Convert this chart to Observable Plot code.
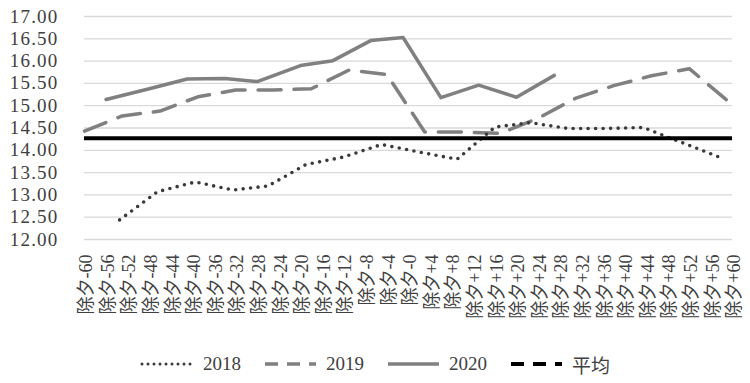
<!DOCTYPE html>
<html><head><meta charset="utf-8">
<script src="https://cdn.jsdelivr.net/npm/d3@7"></script>
<script src="https://cdn.jsdelivr.net/npm/@observablehq/plot@0.6"></script>
<style>
body{margin:0;background:#fff;}
#legend{display:flex;justify-content:center;align-items:center;height:38px;font-family:"Liberation Serif","Noto Sans CJK SC",serif;font-size:19px;color:#404040;padding-left:0px;}
.item{display:flex;align-items:center;margin:0 11px;}
.item svg{margin-right:8px;}
g[aria-label="y-axis tick label"] text{letter-spacing:1.2px;}
</style></head><body>
<div id="chart"></div>
<div id="legend"></div>
<script>
// ---- data ----
const xTickDays = [-60,-56,-52,-48,-44,-40,-36,-32,-28,-24,-20,-16,-12,-8,-4,0,4,8,12,16,20,24,28,32,36,40,44,48,52,56,60];
const xTickLabels = ["除夕-60","除夕-56","除夕-52","除夕-48","除夕-44","除夕-40","除夕-36","除夕-32","除夕-28","除夕-24","除夕-20","除夕-16","除夕-12","除夕-8","除夕-4","除夕-0","除夕+4","除夕+8","除夕+12","除夕+16","除夕+20","除夕+24","除夕+28","除夕+32","除夕+36","除夕+40","除夕+44","除夕+48","除夕+52","除夕+56","除夕+60"];
const yTicks = [12,12.5,13,13.5,14,14.5,15,15.5,16,16.5,17];
const yTickLabels = ["12.00","12.50","13.00","13.50","14.00","14.50","15.00","15.50","16.00","16.50","17.00"];

const days2018 = [-53.5,-46.5,-39.5,-32.5,-26,-19,-12,-5,2,9,16,22.5,29.5,36.5,43.5,50.5,57.5];
const vals2018 = [12.44,13.07,13.29,13.11,13.20,13.68,13.85,14.13,13.96,13.80,14.52,14.62,14.49,14.49,14.51,14.18,13.85];
const days2019 = [-60,-53,-46,-39,-32,-25,-18,-11,-4,3,10,17,24,31,38,45,52,59];
const vals2019 = [14.43,14.77,14.88,15.20,15.35,15.35,15.38,15.80,15.70,14.41,14.41,14.38,14.72,15.17,15.45,15.67,15.83,15.12];
const days2020 = [-56,-48,-41,-34,-28,-20,-14,-7,-1,6,13,20,27];
const vals2020 = [15.14,15.38,15.60,15.61,15.54,15.90,16.01,16.46,16.53,15.18,15.46,15.19,15.68];
const average = 14.27;

const seriesNames = ["2018","2019","2020","平均"];

// ---- build ----
const toRows = (days, vals) => days.map((d,i)=>({day:d, value:vals[i]}));
const rows2018 = toRows(days2018, vals2018);
const rows2019 = toRows(days2019, vals2019);
const rows2020 = toRows(days2020, vals2020);

const FONT = "'Liberation Serif','Noto Sans CJK SC',serif";
const chart = Plot.plot({
  width: 750, height: 345,
  marginLeft: 84, marginRight: 18, marginTop: 16, marginBottom: 106,
  style: {fontFamily: FONT, fontSize: "19px", color: "#404040", background: "#fff"},
  x: {domain: [-60, 60], label: null},
  y: {domain: [12, 17], label: null},
  marks: [
    Plot.ruleY(yTicks, {stroke: "#d9d9d9", strokeWidth: 1.3}),
    Plot.axisY({ticks: yTicks, tickFormat: d => yTickLabels[yTicks.indexOf(d)], tickSize: 0, tickPadding: 26, fontSize: 19, label: null}),
    Plot.axisX({ticks: xTickDays, tickFormat: d => xTickLabels[xTickDays.indexOf(d)], tickRotate: -90, tickSize: 0, tickPadding: 15, fontSize: 18, label: null, dx: 2}),
    Plot.line(rows2019, {x: "day", y: "value", stroke: "#808080", strokeWidth: 3.5, strokeDasharray: "23,13"}),
    Plot.line(rows2020, {x: "day", y: "value", stroke: "#808080", strokeWidth: 3.5}),
    Plot.line(rows2018, {x: "day", y: "value", stroke: "#3a3a3a", strokeWidth: 3.6, strokeDasharray: "0,7.5", strokeLinecap: "round"}),
    Plot.ruleY([average], {stroke: "#000", strokeWidth: 4})
  ]
});
document.getElementById("chart").appendChild(chart);

// ---- legend ----
const styles = [
  {stroke:"#3a3a3a", w:3, dash:"0,6", cap:"round"},
  {stroke:"#808080", w:3.5, dash:"13,9", cap:"butt"},
  {stroke:"#808080", w:3.5, dash:null, cap:"butt"},
  {stroke:"#000", w:4, dash:"13,9", cap:"butt"}
];
const legend = document.getElementById("legend");
seriesNames.forEach((name, i) => {
  const s = styles[i];
  const item = document.createElement("div");
  item.className = "item";
  item.innerHTML = `<svg width="55" height="10"><line x1="2" y1="5" x2="53" y2="5" stroke="${s.stroke}" stroke-width="${s.w}" ${s.dash ? `stroke-dasharray="${s.dash}"` : ""} stroke-linecap="${s.cap}"/></svg><span>${name}</span>`;
  legend.appendChild(item);
});
</script>
</body></html>
